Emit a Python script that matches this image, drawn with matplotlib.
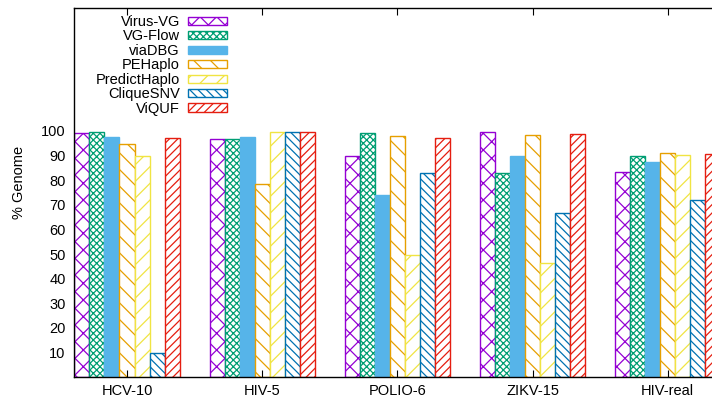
import numpy as np
import matplotlib.pyplot as plt

plt.rcParams['font.family'] = ['Liberation Sans', 'DejaVu Sans']
plt.rcParams['hatch.linewidth'] = 0.9

# Data
datasets = ["HCV-10", "HIV-5", "POLIO-6", "ZIKV-15", "HIV-real"]
methods = ["Virus-VG", "VG-Flow", "viaDBG", "PEHaplo", "PredictHaplo", "CliqueSNV", "ViQUF"]
virus_vg = [99.2, 96.6, 90.0, 99.5, 83.2]
vg_flow = [99.6, 96.6, 99.3, 82.9, 89.8]
via_dbg = [97.7, 97.4, 73.8, 90.0, 87.3]
pehaplo = [94.6, 78.4, 98.0, 98.3, 91.2]
predicthaplo = [89.7, 99.7, 49.5, 46.4, 90.1]
cliquesnv = [9.6, 99.7, 82.9, 66.6, 72.1]
viquf = [97.2, 99.5, 97.3, 98.8, 90.7]
values = [virus_vg, vg_flow, via_dbg, pehaplo, predicthaplo, cliquesnv, viquf]

colors = ["#9400D3", "#009E73", "#56B4E9", "#E69F00", "#F0E442", "#0072B2", "#E51E10"]
hatches = ["xx", "xxxxx", None, "\\\\", "//", "\\\\\\\\", "////"]

fig = plt.figure(figsize=(7.12, 4.03), dpi=100)
ax = fig.add_axes([74 / 712, 1 - 377 / 403, (720.8 - 74) / 712, 369 / 403])

x = np.arange(len(datasets))
w = 1 / 9
for i, (name, vals) in enumerate(zip(methods, values)):
    pos = x + (i - 3) * w
    if hatches[i] is None:
        ax.bar(pos, vals, w, color=colors[i], edgecolor=colors[i], linewidth=1.0, label=name)
    else:
        ax.bar(pos, vals, w, facecolor="white", edgecolor=colors[i], hatch=hatches[i],
               linewidth=1.0, label=name)

ax.set_xlim(-0.392, 4.392)
ax.set_ylim(0, 150)
ax.set_yticks(range(10, 101, 10))
ax.set_xticks(x)
ax.set_xticklabels(datasets, fontsize=10.5)
ax.tick_params(axis="y", labelsize=10.5, direction="in", length=0, pad=6)
ax.tick_params(axis="x", direction="in", length=5, top=True, pad=5)
for s in ax.spines.values():
    s.set_linewidth(1.0)

fig.text(19 / 712, 1 - 182 / 403, "% Genome", rotation=90, ha="center", va="center", fontsize=10.5)

leg = ax.legend(loc="upper right", bbox_to_anchor=(227 / 712, 1 - 15 / 403),
                bbox_transform=fig.transFigure, frameon=False, fontsize=10.5,
                markerfirst=False, handlelength=2.67, handleheight=0.48, labelspacing=0.03,
                handletextpad=0.55, borderaxespad=0, borderpad=0)
leg._legend_handle_box.get_children()[0].align = "right"

fig.savefig("out.png", dpi=100)
